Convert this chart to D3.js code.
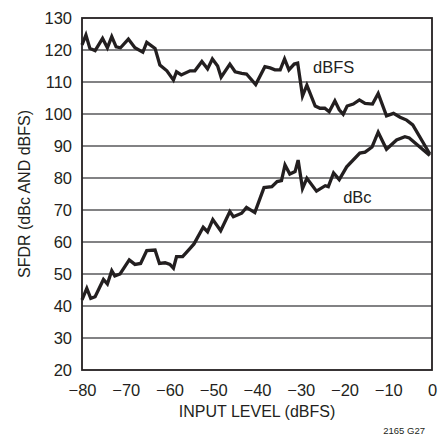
<!DOCTYPE html>
<html><head><meta charset="utf-8">
<script src="https://cdn.jsdelivr.net/npm/d3@7"></script>
<style>
body{margin:0;background:#fff;}
text{font-family:"Liberation Sans",Arial,sans-serif;fill:#231f20;}
</style></head>
<body><svg id="c" width="443" height="436"></svg>
<script>
const xTicks = [-80,-70,-60,-50,-40,-30,-20,-10,0];
const yTicks = [20,30,40,50,60,70,80,90,100,110,120,130];

const dbfsX = [-80,-79.1,-78.2,-77,-75.3,-74.2,-73.2,-72.2,-71.2,-69.4,-67.9,-66.1,-65.2,-63.3,-62.2,-60.6,-59.1,-58.4,-57.3,-55.3,-54.2,-52.6,-51.3,-50.2,-49,-48.2,-46.2,-45,-43.5,-42.4,-40.3,-38.2,-37,-35.9,-34.7,-33.7,-32.7,-31.5,-30.7,-29.6,-28.6,-26.7,-25.6,-24.5,-23.5,-22.2,-21.2,-20.3,-19.4,-18,-16.6,-15.3,-13.6,-12.3,-10.4,-8.8,-7.3,-5.8,-4.4,-0.5];
const dbfsY = [121.6,124.7,120.5,119.8,123.6,120.7,124.2,121,120.7,123.4,120.7,119.3,122.4,120.5,115.3,113.5,110.6,113.2,112.2,113.5,113.5,116.4,114.1,117.2,115,111.5,115.6,113.2,112.7,112.5,109.2,114.8,114.4,113.8,113.8,117.2,113.8,115.6,115.9,105.6,109,102.5,101.8,101.8,100.7,104.1,101.3,99.9,102.5,103.1,104.4,103.3,103.1,106.4,99.4,100.2,99,98.1,96.6,87.5];

const dbcX = [-80,-78.9,-78,-77,-75.1,-74.2,-73.2,-72.5,-71.3,-69.2,-67.9,-66.6,-65.2,-63.3,-62.3,-61,-59.9,-59.1,-58.4,-57,-55.5,-54.4,-52.3,-51.3,-50.1,-48.3,-46.2,-45.4,-43.5,-42.4,-40.5,-38.4,-36.6,-35.4,-34.4,-33.6,-32.5,-31.3,-30.6,-29.6,-28.6,-26.4,-24.4,-23.7,-22.5,-21.2,-19.5,-16.5,-15.3,-13.7,-12.3,-10.4,-8.1,-6.2,-5.2,-0.5];
const dbcY = [41.9,45.5,42.4,42.9,48.3,46.9,51,49.4,50,54.4,53,53.3,57.3,57.5,53.3,53.5,53,51.8,55.4,55.4,57.7,59.4,64.6,63.2,67,63.5,69.5,67.9,69,70.8,69.2,77,77.3,78.9,79.2,84.1,81.25,82,85.6,76.7,79.9,75.9,77.6,77.3,81.6,79.5,83.5,87.8,88.1,89.7,94.3,89,91.9,92.9,92.5,87];

const seriesLabels = ["dBFS","dBc"];

const svg = d3.select("#c");
const x = d3.scaleLinear().domain([-80,0]).range([82,432]);
const y = d3.scaleLinear().domain([20,130]).range([370,18]);

// gridlines
svg.append("g").selectAll("line").data(yTicks.slice(1,-1)).join("line")
  .attr("x1",x(-80)).attr("x2",x(0))
  .attr("y1",d=>y(d)).attr("y2",d=>y(d))
  .attr("stroke","#58595b").attr("stroke-width",1.5);

// frame
svg.append("rect").attr("x",x(-80)).attr("y",y(130))
  .attr("width",x(0)-x(-80)).attr("height",y(20)-y(130))
  .attr("fill","none").attr("stroke","#231f20").attr("stroke-width",1.8);

// y axis labels
const yAxis = d3.axisLeft(y).tickValues(yTicks).tickSize(0).tickPadding(10).tickFormat(d3.format("d"));
const gy = svg.append("g").attr("transform",`translate(${x(-80)},0)`).call(yAxis);
gy.select(".domain").remove();
gy.selectAll("text").attr("font-size","16.5px").attr("fill","#231f20").style("font-family","'Liberation Sans',Arial,sans-serif");

// x axis labels
const xAxis = d3.axisBottom(x).tickValues(xTicks).tickSize(0).tickPadding(14)
  .tickFormat(d=> d<0 ? "\u2212"+Math.abs(d) : String(d));
const gx = svg.append("g").attr("transform",`translate(0,${y(20)})`).call(xAxis);
gx.select(".domain").remove();
gx.selectAll("text").attr("font-size","16.5px").attr("fill","#231f20").style("font-family","'Liberation Sans',Arial,sans-serif");

// lines
const line = d3.line().x(d=>x(d[0])).y(d=>y(d[1]));
const s1 = dbfsX.map((v,i)=>[v,dbfsY[i]]);
const s2 = dbcX.map((v,i)=>[v,dbcY[i]]);
[s1,s2].forEach(s=>{
  svg.append("path").datum(s).attr("d",line).attr("fill","none")
    .attr("stroke","#231f20").attr("stroke-width",3.3).attr("stroke-linejoin","miter");
});

// series labels
svg.append("text").attr("x",x(-27.2)).attr("y",y(112.8)).attr("font-size","16.5px").text(seriesLabels[0]);
svg.append("text").attr("x",x(-20.3)).attr("y",y(72.2)).attr("font-size","16.5px").text(seriesLabels[1]);

// axis titles
svg.append("text").attr("x",(x(-80)+x(0))/2).attr("y",417).attr("text-anchor","middle")
  .attr("font-size","16px").text("INPUT LEVEL (dBFS)");
svg.append("text").attr("transform",`translate(30,${(y(20)+y(130))/2}) rotate(-90)`)
  .attr("text-anchor","middle").attr("font-size","16px").text("SFDR (dBc AND dBFS)");

svg.append("text").attr("x",425).attr("y",434).attr("text-anchor","end")
  .attr("font-size","9.5px").text("2165 G27");
</script></body></html>
